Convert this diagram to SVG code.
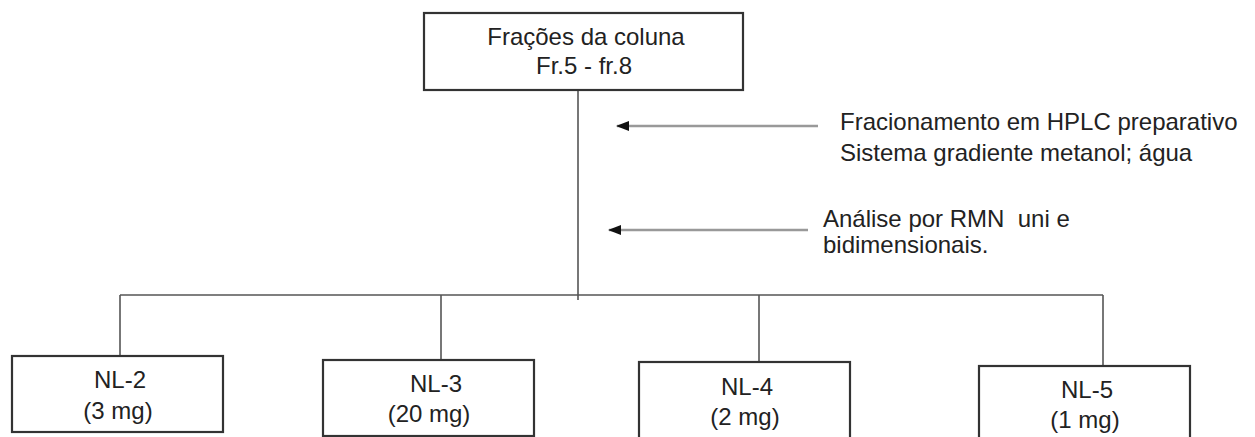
<svg xmlns="http://www.w3.org/2000/svg" width="1255" height="437" viewBox="0 0 1255 437">
<defs>
<marker id="ah" markerWidth="14" markerHeight="12" refX="12" refY="6" orient="auto" markerUnits="userSpaceOnUse">
<path d="M0,1 L13,6 L0,11 Z" fill="#111"/>
</marker>
<style>
.box{fill:#fff;stroke:#333;stroke-width:2.2}
.t{font-family:"Liberation Sans",Arial,sans-serif;font-size:24px;fill:#222}
.c{text-anchor:middle}
.ln{stroke:#555;stroke-width:1.6;fill:none}
.ar{stroke:#999;stroke-width:2.4;fill:none}
</style>
</defs>
<rect width="1255" height="437" fill="#fff"/>
<g id="connectors">
<line class="ln" x1="578" y1="90" x2="578" y2="300"/>
<line class="ln" x1="120" y1="295" x2="1103" y2="295"/>
<line class="ln" x1="120" y1="295" x2="120" y2="356"/>
<line class="ln" x1="441" y1="295" x2="441" y2="360"/>
<line class="ln" x1="759" y1="295" x2="759" y2="362"/>
<line class="ln" x1="1103" y1="295" x2="1103" y2="366"/>
<line class="ar" x1="818" y1="126" x2="617" y2="126" marker-end="url(#ah)"/>
<line class="ar" x1="808" y1="230" x2="609" y2="230" marker-end="url(#ah)"/>
</g>
<g id="top">
<rect class="box" x="424" y="13" width="319" height="77"/>
<text class="t c" x="586" y="45">Frações da coluna</text>
<text class="t c" x="584" y="74">Fr.5 - fr.8</text>
</g>
<g id="label1">
<text class="t" x="840" y="130">Fracionamento em HPLC preparativo</text>
<text class="t" x="840" y="161">Sistema gradiente metanol; água</text>
</g>
<g id="label2">
<text class="t" x="823" y="227" xml:space="preserve">Análise por RMN  uni e</text>
<text class="t" x="823" y="253">bidimensionais.</text>
</g>
<g id="nl2">
<rect class="box" x="12" y="356" width="211" height="76"/>
<text class="t c" x="120" y="388">NL-2</text>
<text class="t c" x="118" y="419">(3 mg)</text>
</g>
<g id="nl3">
<rect class="box" x="323" y="360" width="211" height="76"/>
<text class="t c" x="436" y="392">NL-3</text>
<text class="t c" x="429" y="422">(20 mg)</text>
</g>
<g id="nl4">
<rect class="box" x="639" y="362" width="211" height="80"/>
<text class="t c" x="747" y="395">NL-4</text>
<text class="t c" x="745" y="425">(2 mg)</text>
</g>
<g id="nl5">
<rect class="box" x="979" y="366" width="211" height="80"/>
<text class="t c" x="1087" y="398">NL-5</text>
<text class="t c" x="1085" y="428">(1 mg)</text>
</g>
</svg>
